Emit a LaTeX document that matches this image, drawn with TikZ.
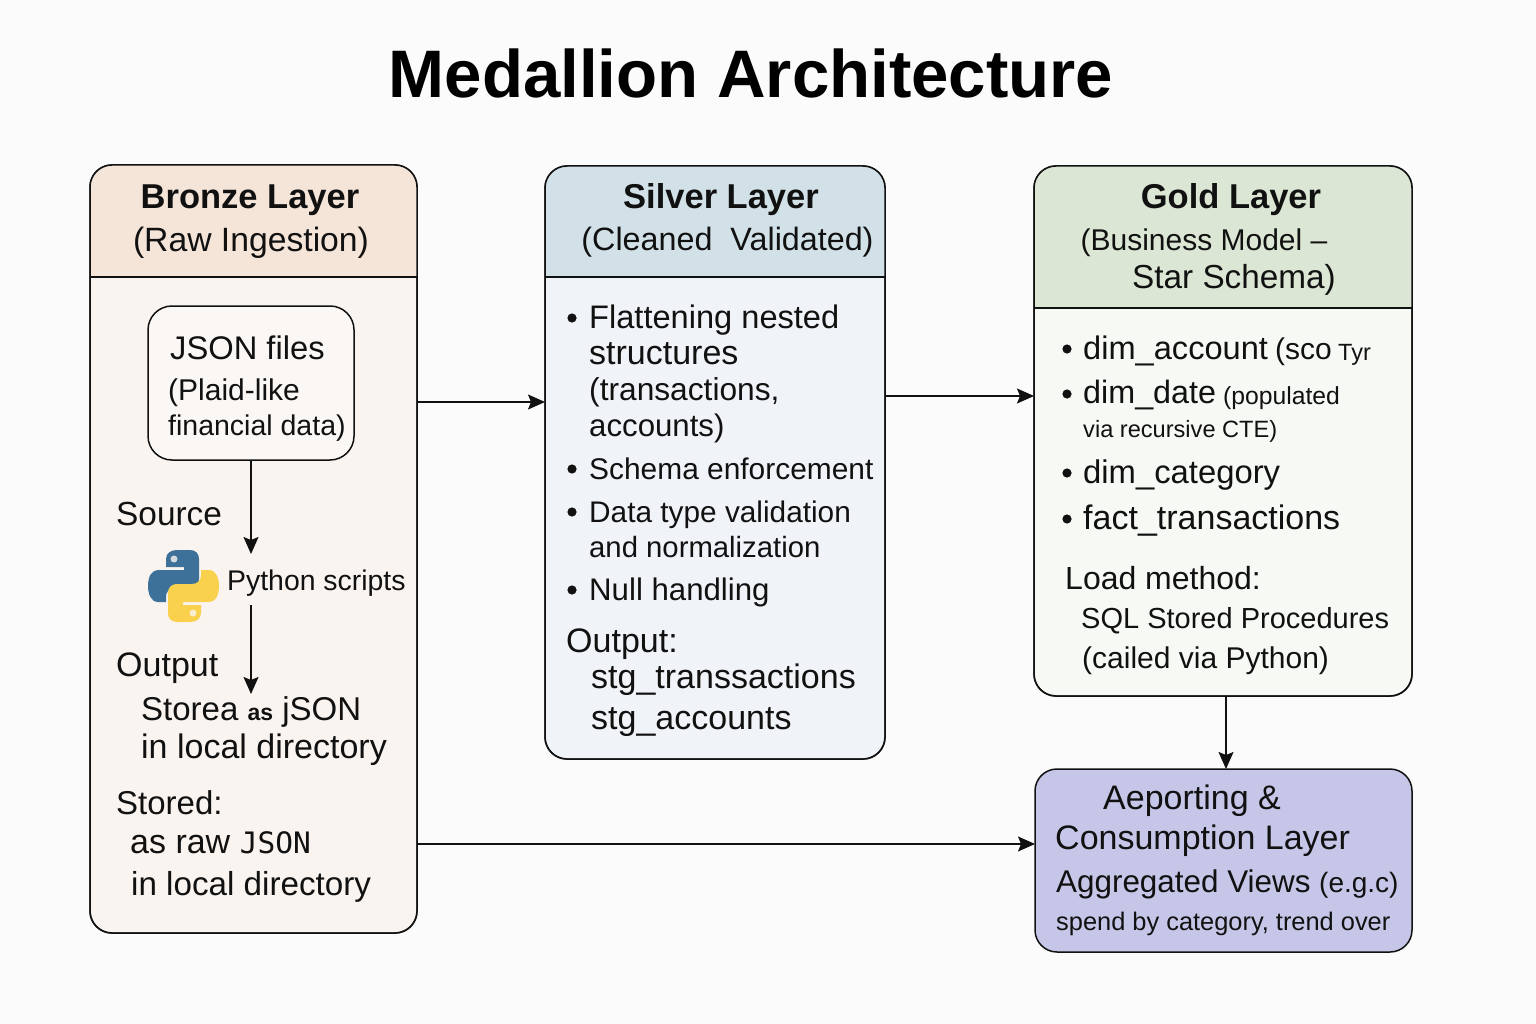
\documentclass[tikz,border=0pt]{standalone}
\usepackage{fontspec}
\setmainfont{Liberation Sans}
\setmonofont{DejaVu Sans Mono}
\usetikzlibrary{calc,arrows.meta,positioning}
\definecolor{pagebg}{HTML}{FBFBFB}
\definecolor{ink}{HTML}{111111}
\definecolor{bronzehead}{HTML}{F5E5D9}
\definecolor{bronzebody}{HTML}{F9F4F0}
\definecolor{silverhead}{HTML}{D2E1E8}
\definecolor{silverbody}{HTML}{F0F3F7}
\definecolor{goldhead}{HTML}{DBE6D4}
\definecolor{goldbody}{HTML}{F7FAF4}
\definecolor{reportfill}{HTML}{C6C6E8}
\definecolor{pyblue}{HTML}{3D7199}
\definecolor{pyyellow}{HTML}{F9D14C}
\newcommand{\fsz}[1]{\fontsize{#1}{#1}\selectfont}
\newcommand{\pysnake}{(182,550) -- (190,550) .. controls (196,550) and (199,554) .. (199,559) -- (199,579) .. controls (199,585) and (195,588) .. (190,588) -- (175,588) .. controls (169,588) and (166,592) .. (166,597) -- (166,602) -- (158,602) .. controls (151,602) and (148,594) .. (148,586) .. controls (148,576) and (152,570) .. (158,570) -- (184,570) -- (184,567) -- (166,567) -- (166,559) .. controls (166,553) and (171,550) .. (177,550) -- cycle}
\tikzset{
    panel/.style={rectangle, rounded corners=22pt, draw=ink, line width=1.5pt, inner sep=0pt, outer sep=0pt},
    rule/.style={draw=ink, line width=1.3pt},
    line/.style={-{Stealth[length=17pt,width=15pt,inset=3pt]}, draw=ink, line width=1.5pt},
    headline/.style={anchor=base, inner sep=0pt, text=ink, font=\fsz{34.5}\bfseries},
    subline/.style={anchor=base, inner sep=0pt, text=ink, font=\fsz{33.7}},
    txt/.style={anchor=base west, inner sep=0pt, text=ink, font=\fsz{34}},
    small/.style={anchor=base west, inner sep=0pt, text=ink, font=\fsz{30}},
    tiny/.style={anchor=base west, inner sep=0pt, text=ink, font=\fsz{27}},
    dot/.style={fill=ink},
}
\begin{document}
\begin{tikzpicture}[x=1pt,y=-1pt]
        \useasboundingbox (0,0) rectangle (1536,1024);
        \fill[pagebg] (0,0) rectangle (1536,1024);

        % Title
        \node[anchor=base, inner sep=0pt, text=black, font=\fsz{67.2}\bfseries] (title) at (751,98) {Medallion Architecture};

        % The layer panels
        \node[panel, fill=bronzebody, minimum width=327pt, minimum height=768pt] (bronze) at (253.5,549) {};
        \node[panel, fill=silverbody, minimum width=340pt, minimum height=593pt] (silver) at (715,462.5) {};
        \node[panel, fill=goldbody, minimum width=378pt, minimum height=530pt] (gold) at (1223,431) {};
        \node[panel, fill=reportfill, minimum width=377pt, minimum height=183pt] (report) at (1223.5,860.5) {};

        % Coloured heads
        \fill[bronzehead] (bronze.west |- 0,277) [rounded corners=22pt] -- (bronze.north west) -- (bronze.north east) [sharp corners] -- (bronze.east |- 0,277) -- cycle;
        \fill[silverhead] (silver.west |- 0,277) [rounded corners=22pt] -- (silver.north west) -- (silver.north east) [sharp corners] -- (silver.east |- 0,277) -- cycle;
        \fill[goldhead] (gold.west |- 0,308) [rounded corners=22pt] -- (gold.north west) -- (gold.north east) [sharp corners] -- (gold.east |- 0,308) -- cycle;
        \draw[rule] (bronze.west |- 0,277) -- (bronze.east |- 0,277);
        \draw[rule] (silver.west |- 0,277) -- (silver.east |- 0,277);
        \draw[rule] (gold.west |- 0,308) -- (gold.east |- 0,308);
        \draw[panel, fill=none] (bronze.north west) rectangle (bronze.south east);
        \draw[panel, fill=none] (silver.north west) rectangle (silver.south east);
        \draw[panel, fill=none] (gold.north west) rectangle (gold.south east);

        % Bronze texts
        \node[headline] (bronzetitle) at (250,209) {Bronze Layer};
        \node[subline] (bronzesub) at (251,251.5) {(Raw Ingestion)};
        \node[panel, rounded corners=24pt, fill=bronzebody!70!white, minimum width=206pt, minimum height=154pt] (json) at (251,383) {};
        \node[txt, font=\fsz{32.7}] (jsonname) at (170,359) {JSON files};
        \node[small] (jsonone) at (168,400) {(Plaid-like};
        \node[small, font=\fsz{28.5}] (jsontwo) at (168,435) {financial data)};
        \node[txt, font=\fsz{33.4}] (source) at (116,525) {Source};
        \node[small, font=\fsz{28.4}] (pyname) at (227,590) {Python scripts};
        \node[txt] (output) at (116,676) {Output};
        \node[txt, font=\fsz{33}] (outone) at (141,720) {Storea {\fsz{23}\bfseries as} jSON};
        \node[txt] (outtwo) at (141,758) {in local directory};
        \node[txt, font=\fsz{33}] (stored) at (116,814) {Stored:};
        \node[txt] (storedone) at (130,853) {as raw {\ttfamily\fsz{29.5}JSON}};
        \node[txt, font=\fsz{33.2}] (storedtwo) at (131,895) {in local directory};

        % Python logo
        \fill[pyblue] \pysnake;
        \fill[pyyellow, rotate around={180:(183.5,586)}] \pysnake;
        \fill[bronzebody!80!pyblue] (174,559) circle (3.5);
        \fill[bronzebody!80!pyyellow] (193,613) circle (3.5);

        % Silver texts
        \node[headline] (silvertitle) at (721,209) {Silver Layer};
        \node[subline, font=\fsz{32.3}] (silversub) at (727.5,251) {(Cleaned\ \ Validated)};
        \foreach \y in {318,469,512,590} \fill[dot] (572,\y) circle (4.6);
        \node[txt, font=\fsz{32.6}] (flatone) at (589,328) {Flattening nested};
        \node[txt] (flattwo) at (589,364) {structures};
        \node[txt, font=\fsz{31.7}] (flatthree) at (589,400) {(transactions,};
        \node[txt, font=\fsz{31.2}] (flatfour) at (589,436) {accounts)};
        \node[txt, font=\fsz{29.9}] (schema) at (589,479) {Schema enforcement};
        \node[txt, font=\fsz{29.8}] (typeone) at (589,522) {Data type validation};
        \node[txt, font=\fsz{29.3}] (typetwo) at (589,557) {and normalization};
        \node[txt, font=\fsz{31.2}] (nulls) at (589,600) {Null handling};
        \node[txt] (silverout) at (566,652) {Output:};
        \node[txt] (stgone) at (591,688) {stg\_transsactions};
        \node[txt] (stgtwo) at (591,729) {stg\_accounts};

        % Gold texts
        \node[headline] (goldtitle) at (1231,209) {Gold Layer};
        \node[subline, font=\fsz{30}] (goldone) at (1204,251) {(Business Model --};
        \node[subline, font=\fsz{33.3}] (goldtwo) at (1234,288) {Star Schema)};
        \foreach \y in {349,394,473,519} \fill[dot] (1067,\y) circle (4.6);
        \node[txt, font=\fsz{32.6}] (dimacc) at (1083,359) {dim\_account};
        \node[small] (dimsco) at (1275,359) {(sco};
        \node[tiny, font=\fsz{23.5}] (dimtyr) at (1338,360) {Tyr};
        \node[txt, font=\fsz{32.3}] (dimdate) at (1083,403) {dim\_date};
        \node[tiny, font=\fsz{24.7}] (datepop) at (1223,404) {(populated};
        \node[tiny, font=\fsz{23.6}] (datevia) at (1083,437) {via recursive CTE)};
        \node[txt, font=\fsz{32.8}] (dimcat) at (1083,483) {dim\_category};
        \node[txt] (facttr) at (1083,529) {fact\_transactions};
        \node[txt, font=\fsz{32}] (load) at (1065,589) {Load method:};
        \node[small, font=\fsz{29}] (loadone) at (1081,628) {SQL Stored Procedures};
        \node[small] (loadtwo) at (1082,668) {(cailed via Python)};

        % Reporting texts
        \node[txt] (repone) at (1103,809) {Aeporting \&};
        \node[txt] (reptwo) at (1055,849) {Consumption Layer};
        \node[small, font=\fsz{31.4}] (repthree) at (1056,892) {Aggregated Views {\fsz{28}(e.g.c)}};
        \node[tiny, font=\fsz{25.4}] (repfour) at (1056,930) {spend by category, trend over};

        % Arrows
        \coordinate (pytop) at (251,554);
        \coordinate (pybot) at (251,605);
        \coordinate (pyend) at (251,694);
        \draw[line] (json.south) -- (pytop);
        \draw[line] (pybot) -- (pyend);
        \draw[line] (bronze.east |- 0,402) -- (silver.west |- 0,402);
        \draw[line] (silver.east |- 0,396) -- (gold.west |- 0,396);
        \draw[line] (gold.south -| 1226,0) -- (report.north -| 1226,0);
        \draw[line] (bronze.east |- 0,844) -- (report.west |- 0,844);
\end{tikzpicture}
\end{document}
